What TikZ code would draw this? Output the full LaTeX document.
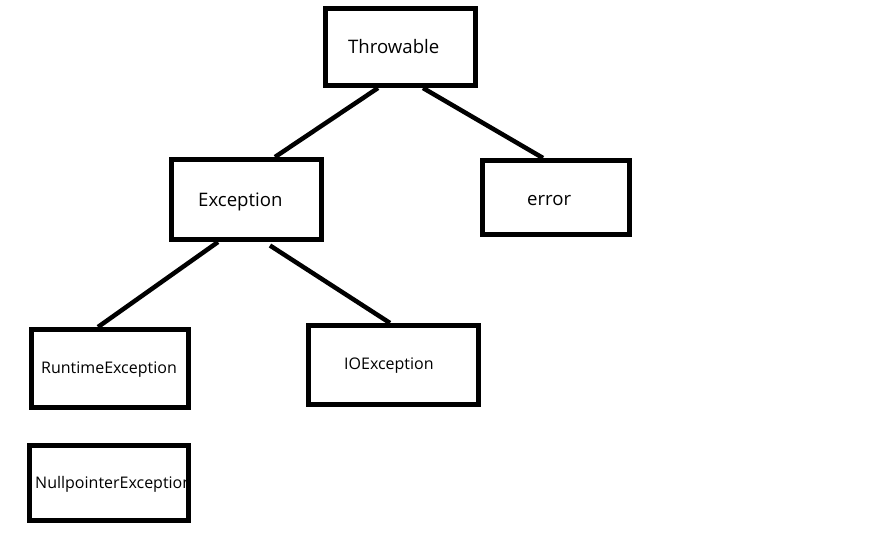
\documentclass[tikz,border=0pt]{standalone}
\usepackage{fontspec}
\setmainfont{Open Sans}
\usetikzlibrary{calc}
\begin{document}
\begin{tikzpicture}[x=1pt,y=-1pt,
  box/.style={draw=black,line width=5pt,inner sep=0pt,outer sep=0pt,rectangle},
  big/.style={inner sep=0pt,anchor=base west,font=\fontsize{18.6}{22}\selectfont},
  small/.style={inner sep=0pt,anchor=base west,font=\fontsize{16}{19}\selectfont},
  conn/.style={line width=4.5pt}]
\useasboundingbox (0,0) rectangle (895,533);
\fill[white] (0,0) rectangle (895,533);
% labels
\node[big] (thrl) at (348,53.5) {Throwable};
\node[big] (excl) at (198,206) {Exception};
\node[big] (errl) at (527,205) {error};
\node[small] (rtel) at (41,373.3) {RuntimeException};
\node[small] (ioel) at (344,369) {IOException};
\node[small] (npel) at (35,488.3) {NullpointerException};
% boxes
\node[box,minimum width=150,minimum height=77] (thr) at (400.5,47) {};
\node[box,minimum width=150,minimum height=80] (exc) at (246.5,199.5) {};
\node[box,minimum width=147,minimum height=74] (err) at (556,197.5) {};
\node[box,minimum width=157,minimum height=78] (rte) at (110,368.5) {};
\node[box,minimum width=170,minimum height=79] (ioe) at (393.5,365) {};
\node[box,minimum width=159,minimum height=75] (npe) at (109,483) {};
% connectors
\draw[conn] ($(thr.south)+(-22.5,2.5)$) -- ($(exc.north)+(28.5,-2.5)$);
\draw[conn] ($(thr.south)+(22.5,2.5)$) -- ($(err.north)+(-13,-2.5)$);
\draw[conn] ($(exc.south)+(-28.5,2.5)$) -- ($(rte.north)+(-12,-2.5)$);
\draw[conn] ($(exc.south)+(23.5,6)$) -- ($(ioe.north)+(-3.5,-2.5)$);
\end{tikzpicture}
\end{document}
